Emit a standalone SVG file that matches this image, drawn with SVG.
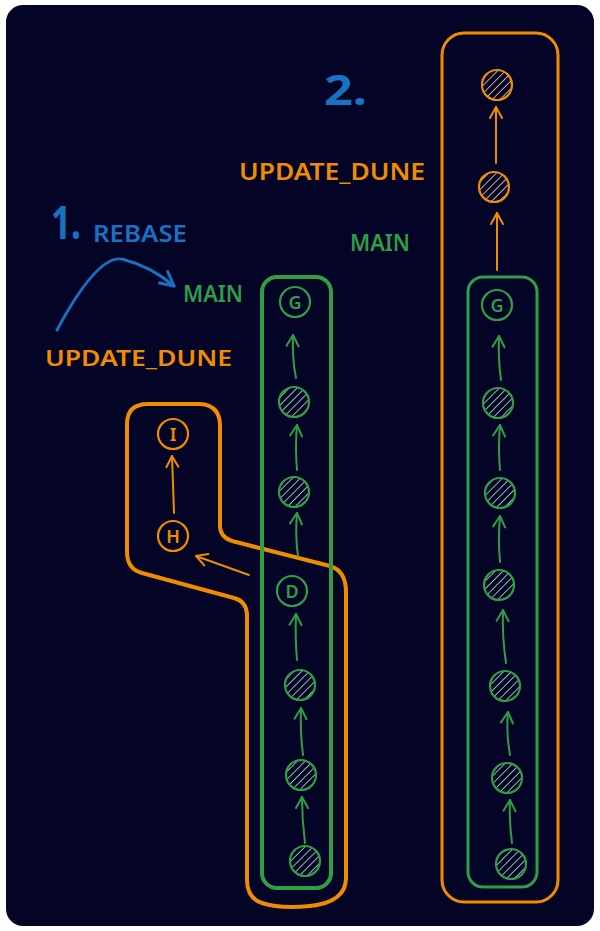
<svg xmlns="http://www.w3.org/2000/svg" width="600" height="931" viewBox="0 0 600 931">
<style>
.t{font-family:"Noto Sans","Liberation Sans",sans-serif;font-weight:600;}
.g{fill:#2f9e44;}
.o{fill:#f08c00;}
.b{fill:#1971c2;}
.cg{fill:#030426;stroke:#2f9e44;stroke-width:2.2;}
.co{fill:#030426;stroke:#f08c00;stroke-width:2.2;}
.ag{fill:none;stroke:#2f9e44;stroke-width:2;stroke-linecap:round;}
.ao{fill:none;stroke:#f08c00;stroke-width:2;stroke-linecap:round;}
.ab{fill:none;stroke:#1971c2;stroke-width:3;stroke-linecap:round;}
.lbl{font-size:18px;text-anchor:middle;}
.big{font-weight:700;}
</style>
<defs>
<pattern id="hg" patternUnits="userSpaceOnUse" width="5.5" height="5.5" patternTransform="rotate(45)">
<rect width="5.5" height="5.5" fill="#030426"/>
<line x1="0" y1="0" x2="0" y2="5.5" stroke="#c3f5ca" stroke-width="1.5"/>
</pattern>
<pattern id="ho" patternUnits="userSpaceOnUse" width="5.5" height="5.5" patternTransform="rotate(45)">
<rect width="5.5" height="5.5" fill="#030426"/>
<line x1="0" y1="0" x2="0" y2="5.5" stroke="#ffe3a8" stroke-width="1.5"/>
</pattern>
<marker id="mg" markerUnits="userSpaceOnUse" markerWidth="20" markerHeight="20" refX="11" refY="10" orient="auto" overflow="visible">
<path d="M0,4 L11,10 L0,16" fill="none" stroke="#2f9e44" stroke-width="2" stroke-linecap="round" stroke-linejoin="round"/>
</marker>
<marker id="mo" markerUnits="userSpaceOnUse" markerWidth="20" markerHeight="20" refX="11" refY="10" orient="auto" overflow="visible">
<path d="M0,4 L11,10 L0,16" fill="none" stroke="#f08c00" stroke-width="2" stroke-linecap="round" stroke-linejoin="round"/>
</marker>
<marker id="mb" markerUnits="userSpaceOnUse" markerWidth="24" markerHeight="24" refX="14" refY="12" orient="auto" overflow="visible">
<path d="M0,5 L14,12 L1,19" fill="none" stroke="#1971c2" stroke-width="3" stroke-linecap="round" stroke-linejoin="round"/>
</marker>
</defs>
<rect x="0" y="0" width="600" height="931" fill="#ffffff"/>
<rect x="6" y="5" width="588" height="921" rx="17" fill="#030426"/>

<g id="branch-left-orange">
<path d="M127,424 Q127,404 148,404 L200,404 Q220,405 220,426 L220,527 Q221,539 236,542 L330,566 Q346,571 346,592 L346,878 Q346,902 310,906 Q280,909 262,903 Q247,898 247,880 L247,614 Q246,601 234,598 L142,573 Q127,569 127,552 Z" fill="none" stroke="#f08c00" stroke-width="4" stroke-linejoin="round"/>
</g>
<g id="branch-left-green">
<rect x="262" y="277" width="69" height="611" rx="15" fill="none" stroke="#2f9e44" stroke-width="4"/>
</g>
<g id="branch-right-orange">
<rect x="442" y="33" width="116" height="869" rx="22" fill="none" stroke="#f08c00" stroke-width="3"/>
</g>
<g id="branch-right-green">
<rect x="468" y="277" width="69" height="610" rx="15" fill="none" stroke="#2f9e44" stroke-width="3"/>
</g>

<g id="connectors">
<path class="ab" d="M57,330 Q100,250 125,260 Q150,266 174,286" marker-end="url(#mb)"/>
<path class="ao" d="M174,513 Q173,485 172,456" marker-end="url(#mo)"/>
<path class="ao" d="M249,575 L196,556" marker-end="url(#mo)"/>
<path class="ag" d="M296,378 Q292,358 293,335" marker-end="url(#mg)"/>
<path class="ag" d="M297,470 Q295,448 297,425" marker-end="url(#mg)"/>
<path class="ag" d="M298,556 Q295,535 297,513" marker-end="url(#mg)"/>
<path class="ag" d="M297,660 Q295,638 296,614" marker-end="url(#mg)"/>
<path class="ag" d="M303,755 Q300,732 301,708" marker-end="url(#mg)"/>
<path class="ag" d="M305,843 Q302,820 302,797" marker-end="url(#mg)"/>
<path class="ao" d="M496,163 L496,107" marker-end="url(#mo)"/>
<path class="ao" d="M497,270 L497,213" marker-end="url(#mo)"/>
<path class="ag" d="M501,380 Q498,358 499,336" marker-end="url(#mg)"/>
<path class="ag" d="M500,470 Q498,448 500,425" marker-end="url(#mg)"/>
<path class="ag" d="M500,562 Q498,540 500,516" marker-end="url(#mg)"/>
<path class="ag" d="M506,663 Q502,636 503,610" marker-end="url(#mg)"/>
<path class="ag" d="M510,755 Q506,734 508,712" marker-end="url(#mg)"/>
<path class="ag" d="M512,843 Q509,822 510,800" marker-end="url(#mg)"/>
</g>

<g id="node-I"><circle class="co" cx="173" cy="434" r="15"/><text class="t o lbl" x="173" y="440.5">I</text></g>
<g id="node-H"><circle class="co" cx="173" cy="536" r="15"/><text class="t o lbl" x="173" y="542.5">H</text></g>

<g id="node-L1"><circle class="cg" cx="295" cy="302" r="15"/><text class="t g lbl" x="295" y="308.5">G</text></g>
<g id="node-L2"><circle class="cg" cx="294" cy="402" r="15" style="fill:url(#hg)"/></g>
<g id="node-L3"><circle class="cg" cx="294" cy="492" r="15" style="fill:url(#hg)"/></g>
<g id="node-L4"><circle class="cg" cx="292" cy="591" r="15"/><text class="t g lbl" x="292" y="597.5">D</text></g>
<g id="node-L5"><circle class="cg" cx="300" cy="685" r="15" style="fill:url(#hg)"/></g>
<g id="node-L6"><circle class="cg" cx="301" cy="775" r="15" style="fill:url(#hg)"/></g>
<g id="node-L7"><circle class="cg" cx="305" cy="861" r="15" style="fill:url(#hg)"/></g>

<g id="node-R1"><circle class="co" cx="497" cy="85" r="15" style="fill:url(#ho)"/></g>
<g id="node-R2"><circle class="co" cx="494" cy="187" r="15" style="fill:url(#ho)"/></g>
<g id="node-R3"><circle class="cg" cx="497" cy="305" r="15"/><text class="t g lbl" x="497" y="311.5">G</text></g>
<g id="node-R4"><circle class="cg" cx="498" cy="403" r="15" style="fill:url(#hg)"/></g>
<g id="node-R5"><circle class="cg" cx="500" cy="493" r="15" style="fill:url(#hg)"/></g>
<g id="node-R6"><circle class="cg" cx="499" cy="585" r="15" style="fill:url(#hg)"/></g>
<g id="node-R7"><circle class="cg" cx="505" cy="686" r="15" style="fill:url(#hg)"/></g>
<g id="node-R8"><circle class="cg" cx="507" cy="778" r="15" style="fill:url(#hg)"/></g>
<g id="node-R9"><circle class="cg" cx="511" cy="864" r="15" style="fill:url(#hg)"/></g>

<g id="labels">
<text class="t b big" x="51" y="239" font-size="46" textLength="30" lengthAdjust="spacingAndGlyphs">1.</text>
<text class="t b" x="93" y="242" font-size="23" textLength="94" lengthAdjust="spacingAndGlyphs">REBASE</text>
<text class="t g" x="183" y="302" font-size="23" textLength="60" lengthAdjust="spacingAndGlyphs">MAIN</text>
<text class="t o" x="45" y="366" font-size="22" textLength="187" lengthAdjust="spacingAndGlyphs">UPDATE_DUNE</text>
<text class="t b big" x="324" y="105" font-size="42" textLength="43" lengthAdjust="spacingAndGlyphs">2.</text>
<text class="t o" x="239" y="180" font-size="23" textLength="186" lengthAdjust="spacingAndGlyphs">UPDATE_DUNE</text>
<text class="t g" x="350" y="251" font-size="24" textLength="60" lengthAdjust="spacingAndGlyphs">MAIN</text>
</g>
</svg>
